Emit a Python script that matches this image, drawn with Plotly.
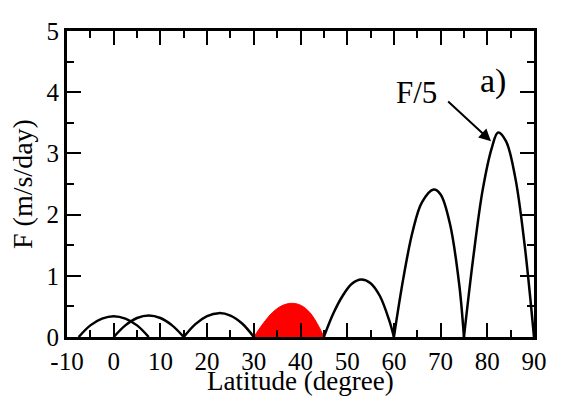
import plotly.graph_objects as go

# Hump curves (latitude in degrees, F in m/s/day)
h1_x = [-7.5, -5, -2.5, 0, 2.5, 5, 7.5]
h1_y = [0, 0.19, 0.30, 0.34, 0.30, 0.19, 0]
h2_x = [0, 2.5, 5, 7.5, 10, 12.5, 15]
h2_y = [0, 0.19, 0.31, 0.35, 0.31, 0.19, 0]
h3_x = [15, 17.5, 20, 22.5, 25, 27.5, 30]
h3_y = [0, 0.21, 0.34, 0.39, 0.35, 0.22, 0]
red_x = [30, 32, 34, 36, 38, 40, 42, 44, 45]
red_y = [0, 0.22, 0.40, 0.51, 0.55, 0.52, 0.40, 0.16, 0]
h5_x = [45, 47, 49, 51, 53, 55, 57, 59, 60]
h5_y = [0, 0.38, 0.67, 0.87, 0.94, 0.88, 0.67, 0.27, 0]
h6_x = [60, 62, 64, 66, 68.5, 70, 72, 74, 75]
h6_y = [0, 0.95, 1.72, 2.2, 2.41, 2.33, 1.85, 0.85, 0]
h7_x = [75, 77, 79, 81, 82.3, 84, 86, 88, 90]
h7_y = [0, 1.3, 2.4, 3.1, 3.34, 3.2, 2.6, 1.5, 0]

x_ticks = [-10, 0, 10, 20, 30, 40, 50, 60, 70, 80, 90]
y_ticks = [0, 1, 2, 3, 4, 5]

FONT = "Liberation Serif"

fig = go.Figure()
for hx, hy in [(h1_x, h1_y), (h2_x, h2_y), (h3_x, h3_y), (h5_x, h5_y), (h6_x, h6_y), (h7_x, h7_y)]:
    fig.add_trace(go.Scatter(x=hx, y=hy, mode="lines",
                             line=dict(color="black", width=2.5, shape="spline", smoothing=1.0),
                             showlegend=False, hoverinfo="skip"))
fig.add_trace(go.Scatter(x=red_x, y=red_y, mode="lines", fill="toself", fillcolor="red",
                         line=dict(color="red", width=1, shape="spline", smoothing=1.0),
                         showlegend=False, hoverinfo="skip"))

axis_common = dict(showgrid=False, zeroline=False, showline=True, linecolor="black",
                   linewidth=3, mirror="ticks", ticks="inside", tickcolor="black",
                   tickwidth=1.5, tickfont=dict(family=FONT, size=25, color="black"))

fig.update_xaxes(range=[-10, 90], tickvals=x_ticks, ticktext=[str(v) for v in x_ticks],
                 ticklen=14, minor=dict(dtick=5, ticklen=7, ticks="inside", tickcolor="black", tickwidth=1.5),
                 **axis_common)
fig.update_yaxes(range=[0, 5], tickvals=y_ticks, ticktext=[str(v) for v in y_ticks],
                 ticklen=14, minor=dict(dtick=0.5, ticklen=7, ticks="inside", tickcolor="black", tickwidth=1.5),
                 **axis_common)

# axis titles
fig.add_annotation(x=0.5, y=0, xref="paper", yref="paper", yanchor="middle", yshift=-44,
                   text="Latitude (degree)", showarrow=False,
                   font=dict(family=FONT, size=27, color="black"))
fig.add_annotation(x=0, y=0.5, xref="paper", yref="paper", xanchor="center", xshift=-45,
                   text="F (m/s/day)", textangle=-90, showarrow=False,
                   font=dict(family=FONT, size=28, color="black"))

fig.add_annotation(x=81.3, y=4.18, text="a)", showarrow=False,
                   font=dict(family=FONT, size=34, color="black"))
fig.add_annotation(x=80.8, y=3.2, ax=71.3, ay=3.87, axref="x", ayref="y",
                   text="", showarrow=True, arrowhead=2, arrowsize=1.2, arrowwidth=2, arrowcolor="black")
fig.add_annotation(x=64.8, y=4.0, text="F/5", showarrow=False,
                   font=dict(family=FONT, size=31, color="black"))

# the page body adds an 8px margin around the figure; size it so nothing overflows the window
fig.update_layout(width=549, height=388, margin=dict(l=59, r=10, t=18, b=59),
                  plot_bgcolor="white", paper_bgcolor="white")

fig.write_html("out.html")
